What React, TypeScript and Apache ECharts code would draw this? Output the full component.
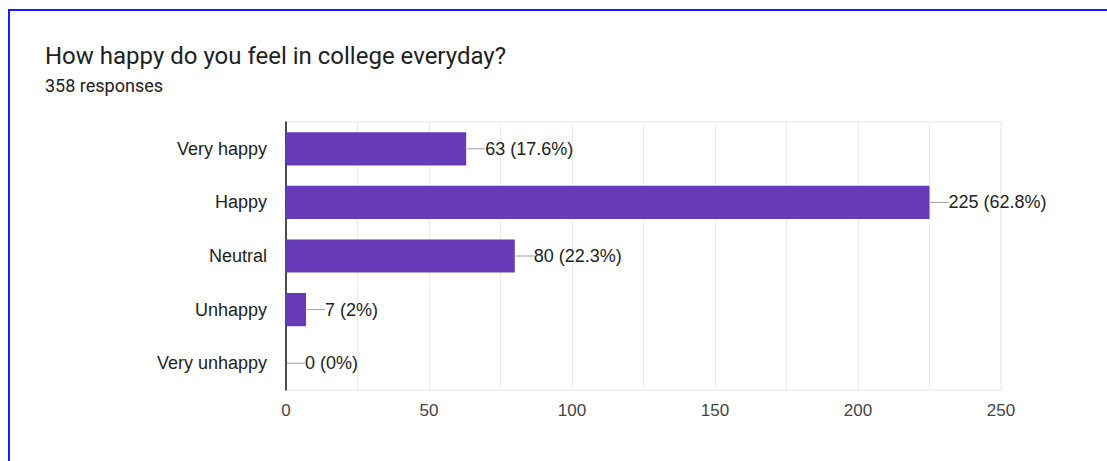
import React, { useEffect, useRef } from "react";
import * as echarts from "echarts";

const title = "How happy do you feel in college everyday?";
const subtitle = "358 responses";
const categories = ["Very happy", "Happy", "Neutral", "Unhappy", "Very unhappy"];
const counts = [63, 225, 80, 7, 0];
const percents = ["17.6%", "62.8%", "22.3%", "2%", "0%"];
const xTicks = [0, 50, 100, 150, 200, 250];

export default function App() {
  const ref = useRef<HTMLDivElement>(null);
  useEffect(() => {
    if (!ref.current) return;
    const chart = echarts.init(ref.current, null, { renderer: "svg" });
    chart.setOption({
      animation: false,
      backgroundColor: "#ffffff",
      graphic: [
        {
          type: "rect",
          shape: { x: 9, y: 10, width: 1300, height: 700 },
          style: { fill: "none", stroke: "#1a1aff", lineWidth: 2 },
          silent: true,
        },
        {
          type: "text",
          left: 45,
          top: 44,
          style: { text: title, font: "24px Roboto", fill: "#202124" },
        },
        {
          type: "text",
          left: 45,
          top: 76,
          style: { text: subtitle, font: "18px Roboto", fill: "#202124" },
        },
      ],
      grid: {
        left: 286,
        right: 106,
        top: 122,
        bottom: 71,
        show: true,
        borderColor: "#e6e6e6",
        borderWidth: 1,
      },
      xAxis: {
        type: "value",
        min: 0,
        max: 250,
        interval: 25,
        axisLine: { show: false },
        axisTick: { show: false },
        splitLine: { show: true, lineStyle: { color: "#ececec", width: 1 } },
        axisLabel: {
          margin: 12,
          color: "#444444",
          fontSize: 17,
          fontFamily: "Liberation Sans, Arial, sans-serif",
          formatter: (v: number) => (xTicks.includes(v) ? String(v) : ""),
        },
      },
      yAxis: {
        type: "category",
        data: categories,
        inverse: true,
        axisLine: { show: true, lineStyle: { color: "#222222", width: 1.6 } },
        axisTick: { show: false },
        splitLine: { show: false },
        axisLabel: {
          margin: 19,
          color: "#222222",
          fontSize: 18,
          fontFamily: "Liberation Sans, Arial, sans-serif",
        },
      },
      series: [
        {
          type: "bar",
          data: counts,
          barWidth: "62%",
          itemStyle: { color: "#673ab7" },
          silent: true,
        },
        {
          type: "custom",
          data: counts.map((c, i) => [c, i]),
          silent: true,
          z: 5,
          renderItem: (params: any, api: any) => {
            const idx = params.dataIndex;
            const p = api.coord([api.value(0), api.value(1)]);
            const x0 = p[0] + 1;
            const y = p[1];
            return {
              type: "group",
              children: [
                {
                  type: "line",
                  shape: { x1: x0, y1: y, x2: x0 + 18, y2: y },
                  style: { stroke: "#9e9e9e", lineWidth: 1 },
                },
                {
                  type: "text",
                  x: x0 + 18,
                  y: y,
                  style: {
                    text: `${counts[idx]} (${percents[idx]})`,
                    font: "18px 'Liberation Sans', Arial, sans-serif",
                    fill: "#222222",
                    textVerticalAlign: "middle",
                    verticalAlign: "middle",
                  },
                },
              ],
            };
          },
        },
      ],
    });
    return () => chart.dispose();
  }, []);
  return (
    <div
      ref={ref}
      style={{ position: "fixed", left: 0, top: 0, width: 1107, height: 461 }}
    />
  );
}
